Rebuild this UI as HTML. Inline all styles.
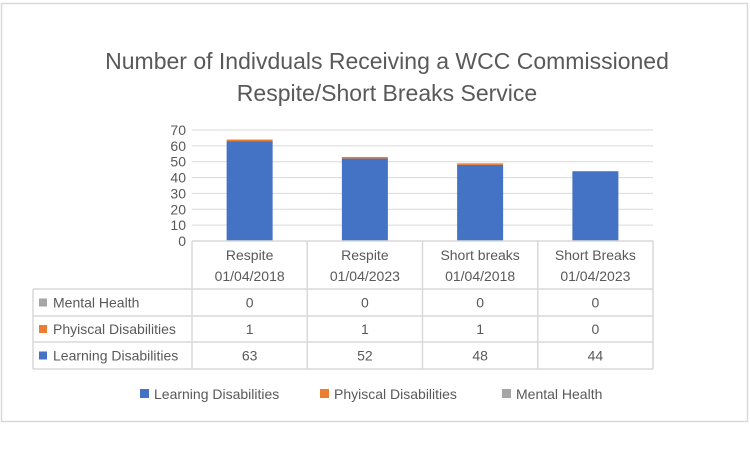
<!DOCTYPE html>
<html><head><meta charset="utf-8"><style>
html,body{margin:0;padding:0;background:#fff;width:750px;height:450px;overflow:hidden}
svg text{font-family:"Liberation Sans",sans-serif;fill:#595959}
</style></head><body>
<svg id="chart" width="750" height="450">
<rect x="1.5" y="3.5" width="746" height="418" fill="#fff" stroke="#d9d9d9" stroke-width="1.5"/>
<text x="387" y="69" font-size="23" text-anchor="middle">Number of Indivduals Receiving a WCC Commissioned</text>
<text x="387" y="101" font-size="23" text-anchor="middle">Respite/Short Breaks Service</text>
<g id="grid"></g><g id="bars"></g><g id="table"></g><g id="legend"></g>
</svg>
<script>
const categories=["Respite|01/04/2018","Respite|01/04/2023","Short breaks|01/04/2018","Short Breaks|01/04/2023"];
const learning=[63,52,48,44];
const physical=[1,1,1,0];
const mental=[0,0,0,0];
const yTicks=[0,10,20,30,40,50,60,70];
const seriesNames=["Learning Disabilities","Phyiscal Disabilities","Mental Health"];
const colors=["#4472c4","#ed7d31","#a5a5a5"];
const NS="http://www.w3.org/2000/svg";
const x0=192,x1=653,yTop=130,yBot=241,yMax=70;
const cw=(x1-x0)/categories.length;
const y=v=>yBot-(v/yMax)*(yBot-yTop);
function mk(tag,attrs,parent,txt){const e=document.createElementNS(NS,tag);for(const k in attrs)e.setAttribute(k,attrs[k]);if(txt!==undefined)e.textContent=txt;parent.appendChild(e);return e;}
const grid=document.getElementById('grid');
yTicks.forEach(t=>{
 const l=mk('line',{x1:x0,x2:x1,y1:y(t),y2:y(t),stroke:'#d9d9d9','stroke-width':1},grid);
 
 
 const tx=mk('text',{x:186,y:y(t)+5,'font-size':14,'text-anchor':'end'},grid,t);
 
 
});
const bars=document.getElementById('bars');
const series=[learning,physical,mental];
categories.forEach((c,i)=>{
 let base=0;const bx=x0+cw*i+cw/2-23;
 series.forEach((s,j)=>{
  if(s[i]>0){
   const r=mk('rect',{x:bx,y:y(base+s[i]),width:46,height:y(base)-y(base+s[i]),fill:colors[j]},bars);
   
   
  }
  base+=s[i];
 });
});
const tb=document.getElementById('table');
const rows=[[289,316],[316,342],[342,369]];
const st={stroke:'#d9d9d9','stroke-width':1.5};
// borders
[[x0,241,x1,241],[33,289,x1,289],[33,316,x1,316],[33,342,x1,342],[33,369,x1,369],[33,289,33,369]].forEach((a,k)=>{
 const l=mk('line',Object.assign({x1:a[0],y1:a[1],x2:a[2],y2:a[3]},st),tb);
 
 
});
for(let i=0;i<=categories.length;i++){
 const l=mk('line',Object.assign({x1:x0+cw*i,y1:241,x2:x0+cw*i,y2:369},st),tb);
 
 
}
categories.forEach((c,i)=>{
 const p=c.split('|');const cx=x0+cw*i+cw/2;
 const t1=mk('text',{x:cx,y:260,'font-size':14,'text-anchor':'middle'},tb,p[0]);
 
 
 const t2=mk('text',{x:cx,y:281,'font-size':14,'text-anchor':'middle'},tb,p[1]);
 
 
});
const rowSeries=[[2,mental],[1,physical],[0,learning]];
rowSeries.forEach((rs,r)=>{
 const cy=(rows[r][0]+rows[r][1])/2+5;
 const sq=mk('rect',{x:39,y:cy-9,width:8,height:8,fill:colors[rs[0]]},tb);
 
 
 const nm=mk('text',{x:53,y:cy,'font-size':14},tb,seriesNames[rs[0]]);
 
 
 rs[1].forEach((v,i)=>{
  const t=mk('text',{x:x0+cw*i+cw/2,y:cy,'font-size':14,'text-anchor':'middle'},tb,v);
  
  
 });
});
const lg=document.getElementById('legend');
const lx=[140,320,502];
seriesNames.forEach((n,j)=>{
 const s=mk('rect',{x:lx[j],y:389,width:9,height:9,fill:colors[j]},lg);
 
 
 const t=mk('text',{x:lx[j]+14,y:399,'font-size':14},lg,n);
 
 
});
</script>
</body></html>
